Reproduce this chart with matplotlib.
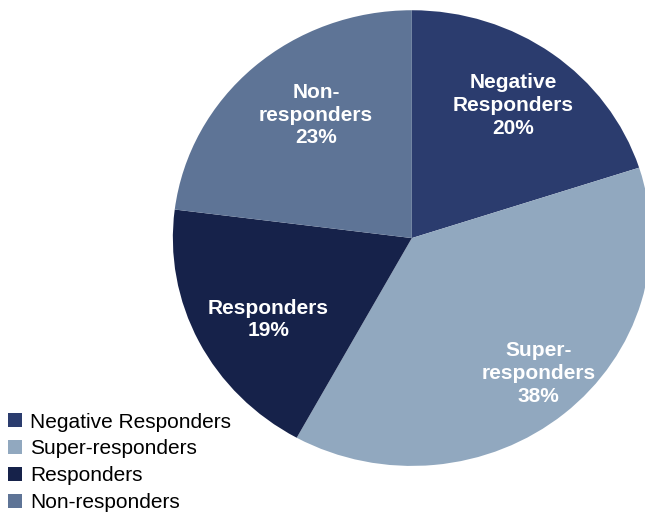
import matplotlib.pyplot as plt

plt.rcParams['font.family'] = ['Liberation Sans', 'DejaVu Sans']

labels = ['Negative Responders', 'Super-responders', 'Responders', 'Non-responders']
slice_text = ['Negative\nResponders', 'Super-\nresponders', 'Responders', 'Non-\nresponders']
sizes = [20, 38, 19, 23]
colors = ['#2B3C6E', '#91A8BF', '#16224A', '#5E7496']

fig = plt.figure(figsize=(6.45, 5.12), dpi=100)
# pie is a bit wider than tall in the reference
ax = fig.add_axes([0.268, 0.09, 0.741, 0.89])

wedges, texts = ax.pie(sizes, colors=colors, startangle=90, counterclock=False,
                       labels=[t + '\n' + str(s) + '%' for t, s in zip(slice_text, sizes)],
                       labeldistance=0.72,
                       textprops=dict(color='white', fontsize=15, fontweight='bold'))
# small per-label nudges (axes units)
nudge = [(0, 0), (0.07, -0.04), (0.04, -0.03), (0.075, 0.0)]
for t, (dx, dy) in zip(texts, nudge):
    x, y = t.get_position()
    t.set_position((x + dx, y + dy))
    t.set_ha('center')
    t.set_va('center')
    t.set_linespacing(1.25)
ax.set_aspect('auto')
ax.set_xlim(-1, 1)
ax.set_ylim(-1, 1)
for w in wedges:
    w.set_clip_on(False)

fig.legend(wedges, labels, loc='lower left', bbox_to_anchor=(0.003, -0.012),
           frameon=False, fontsize=15, handlelength=0.65, handleheight=0.65,
           handletextpad=0.4, labelspacing=0.37, borderaxespad=0.1, borderpad=0.2)

fig.savefig('out.png', dpi=100)
